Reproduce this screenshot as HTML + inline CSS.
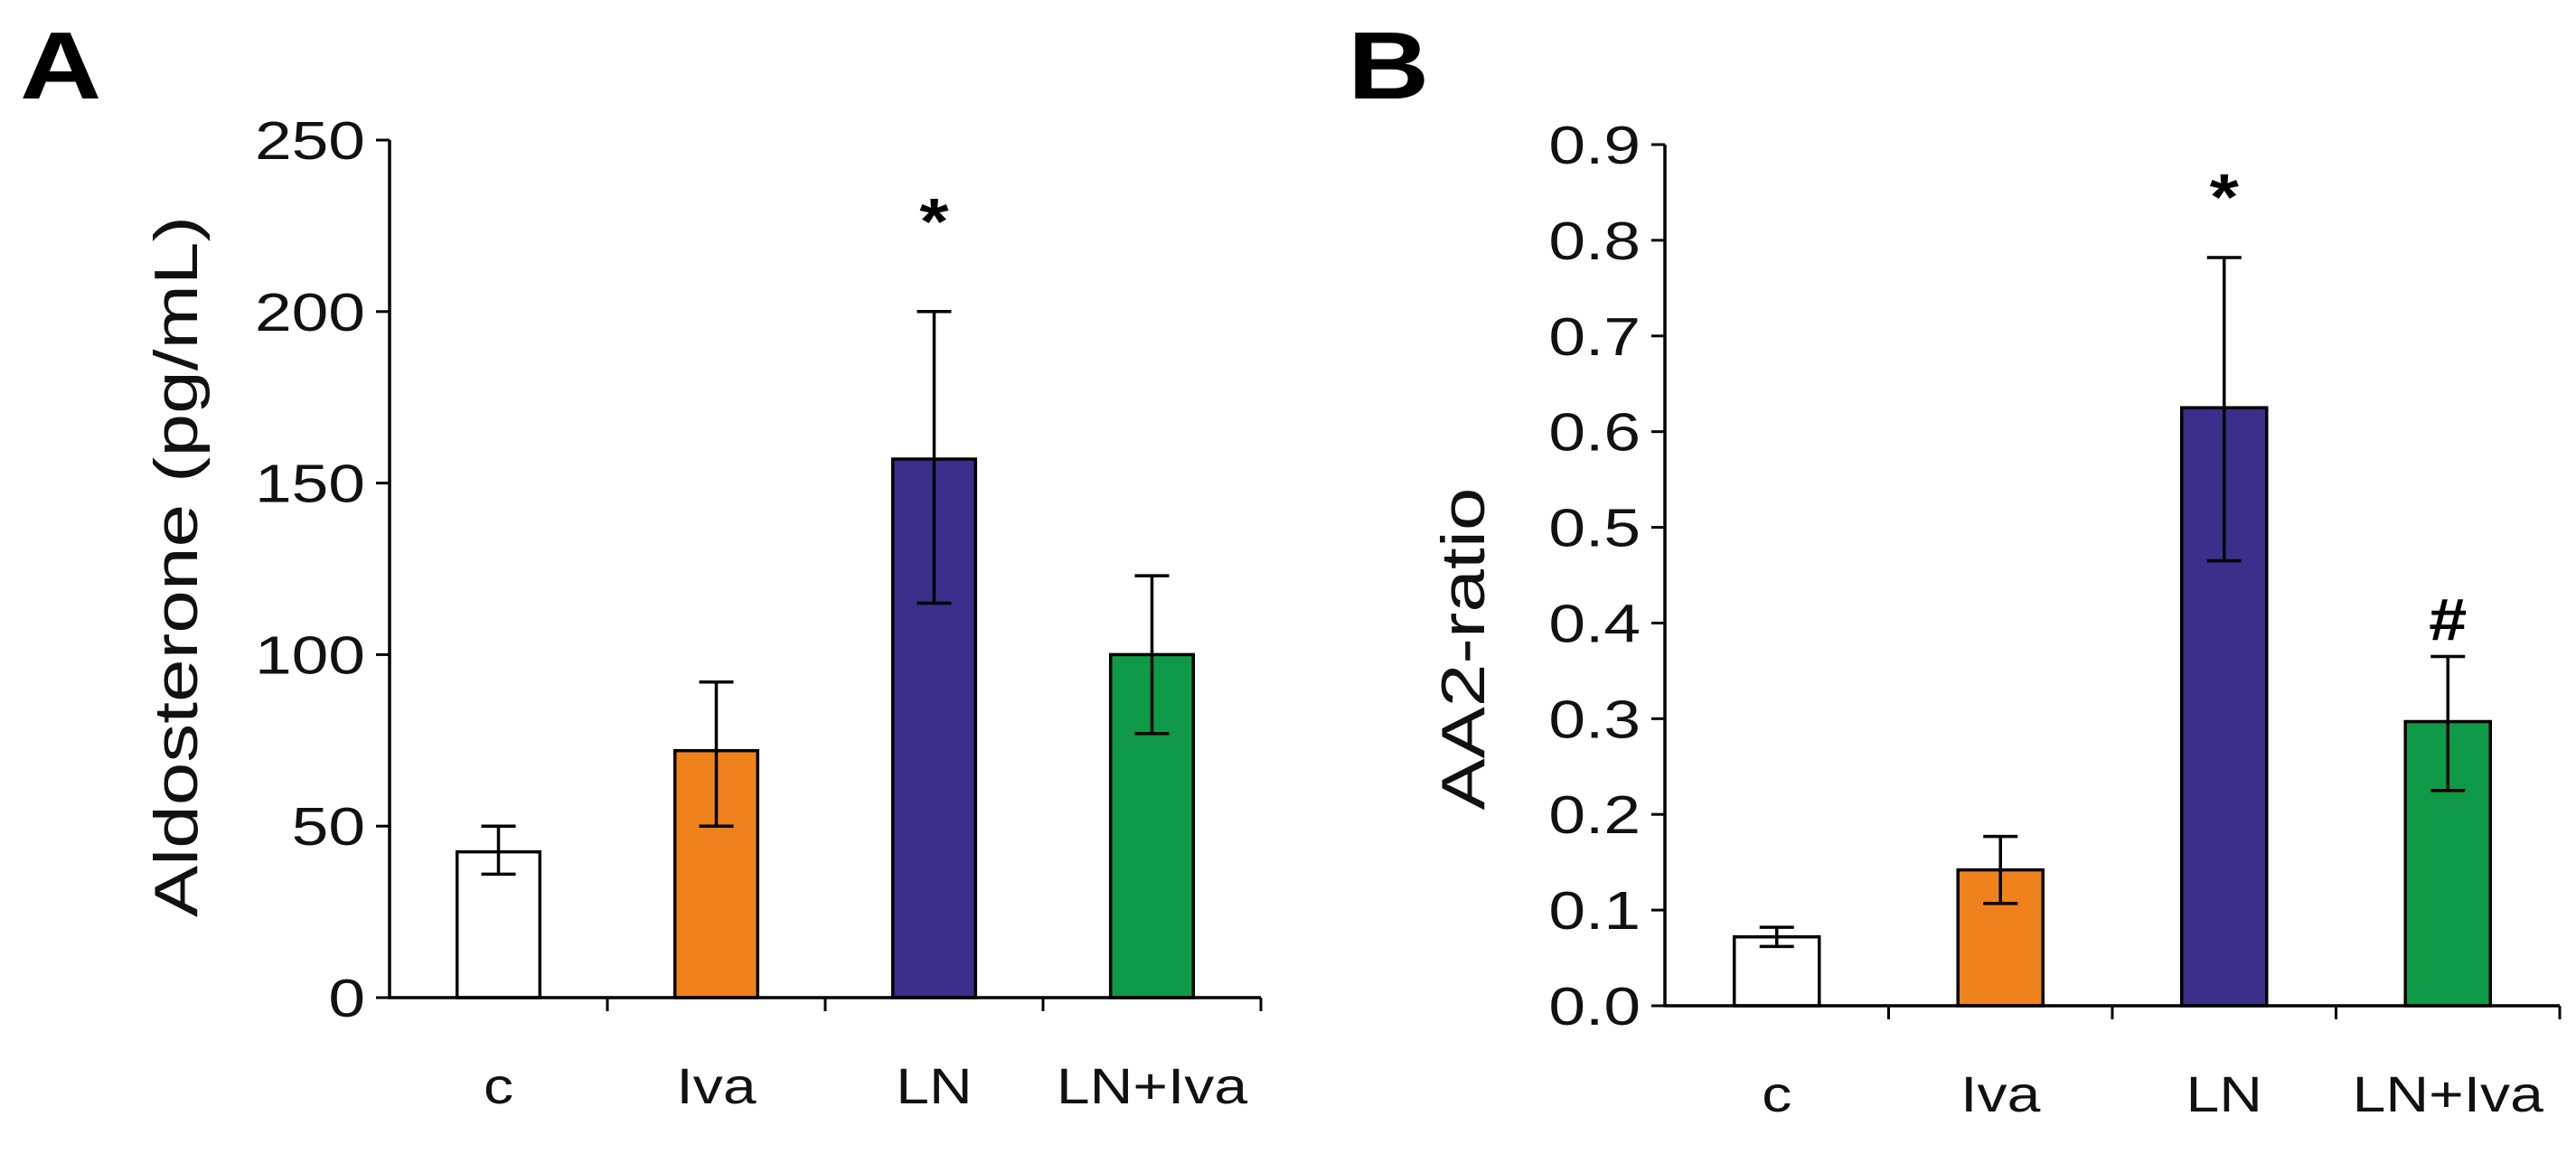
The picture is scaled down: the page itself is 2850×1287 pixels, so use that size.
<!DOCTYPE html>
<html><head><meta charset="utf-8"><style>
html,body{margin:0;padding:0;background:#fff;overflow:hidden;}
svg{display:block;font-family:"Liberation Sans",Arial,sans-serif;}
</style></head><body>
<svg id="chart" width="2850" height="1287" viewBox="0 0 2850 1287">
<text transform="translate(22,109) scale(1.18,1)" font-size="106" font-weight="bold">A</text>
<text transform="translate(1491,109) scale(1.18,1)" font-size="106" font-weight="bold">B</text>
<g id="pa"></g>
<g id="pb"></g>
</svg>
<script>
const categories = ["c","Iva","LN","LN+Iva"];
const colors = ["#ffffff","#f0821e","#3a2f8a","#0f9a48"];
const aValues = [42.5, 72, 157, 100];
const aErrLow = [36, 50, 115, 77];
const aErrHigh = [50, 92, 200, 123];
const aTicks = [0,50,100,150,200,250];
const aTickLabels = ["0","50","100","150","200","250"];
const aMarks = ["", "", "*", ""];
const bValues = [0.072, 0.142, 0.625, 0.297];
const bErrLow = [0.062, 0.107, 0.465, 0.225];
const bErrHigh = [0.082, 0.177, 0.782, 0.365];
const bTicks = [0,0.1,0.2,0.3,0.4,0.5,0.6,0.7,0.8,0.9];
const bTickLabels = ["0.0","0.1","0.2","0.3","0.4","0.5","0.6","0.7","0.8","0.9"];
const bMarks = ["", "", "*", "#"];
const NS="http://www.w3.org/2000/svg";
function mk(p,t,a){const e=document.createElementNS(NS,t);for(const k in a)e.setAttribute(k,a[k]);p.appendChild(e);return e;}
function panel(g,cfg){
  const {x0,x1,yTop,yBot,max,vals,lo,hi,ticks,labels,marks,ylab,ylx,yly,catY,starOff,hashOff}=cfg;
  const y=v=>yBot-(v/max)*(yBot-yTop);
  const cw=(x1-x0)/categories.length;
  const bw=cw*0.38;
  ticks.forEach((t,i)=>{
    const tl=mk(g,"line",{x1:x0-15,x2:x0,y1:y(t),y2:y(t),stroke:"#000","stroke-width":3});
    
    
    const tx=mk(g,"text",{transform:`translate(${x0-27},${y(t)+21}) scale(1.24,1)`,"font-size":59,"text-anchor":"end",fill:"#111"});
    tx.textContent=labels[i];
    
    
  });
  categories.forEach((c,i)=>{
    const cx=x0+cw*(i+0.5);
    const r=mk(g,"rect",{x:cx-bw/2,y:y(vals[i]),width:bw,height:yBot-y(vals[i]),fill:colors[i],stroke:"#000","stroke-width":3.5});
    
    
    const e=mk(g,"path",{d:`M${cx-19},${y(hi[i])}H${cx+19}M${cx},${y(hi[i])}V${y(lo[i])}M${cx-19},${y(lo[i])}H${cx+19}`,stroke:"#000","stroke-width":3.5,fill:"none"});
    
    
    const tk=mk(g,"line",{x1:x0+cw*(i+1),x2:x0+cw*(i+1),y1:yBot,y2:yBot+15,stroke:"#000","stroke-width":3});
    
    
    const lb=mk(g,"text",{transform:`translate(${cx},${catY}) scale(1.18,1)`,"font-size":56,"text-anchor":"middle",fill:"#111"});
    lb.textContent=c;
    
    
    if(marks[i]){
      const star=marks[i]=="*";
      const m=mk(g,"text",{transform:`translate(${cx},${y(hi[i])-(star?starOff:hashOff)}) scale(1.15,1)`,"font-size":star?72:66,"font-weight":"bold","text-anchor":"middle"});
      m.textContent=marks[i];
      
      
    }
  });
  const ax=mk(g,"path",{d:`M${x0},${yTop}V${yBot}H${x1}`,stroke:"#000","stroke-width":3.5,fill:"none"});
  
  
  const yl=mk(g,"text",{transform:`translate(${ylx},${yly}) rotate(-90) scale(1.26,1)`,"font-size":68,"text-anchor":"middle",fill:"#111"});
  yl.textContent=ylab;
  
  
}
panel(document.getElementById("pa"),{x0:431,x1:1395,yTop:155,yBot:1104,max:250,vals:aValues,lo:aErrLow,hi:aErrHigh,ticks:aTicks,labels:aTickLabels,marks:aMarks,ylab:"Aldosterone (pg/mL)",ylx:218,yly:627,catY:1221,starOff:75,hashOff:18});
panel(document.getElementById("pb"),{x0:1842,x1:2832,yTop:160,yBot:1113,max:0.9,vals:bValues,lo:bErrLow,hi:bErrHigh,ticks:bTicks,labels:bTickLabels,marks:bMarks,ylab:"AA2-ratio",ylx:1642,yly:718,catY:1230,starOff:42,hashOff:18});
</script>
</body></html>
